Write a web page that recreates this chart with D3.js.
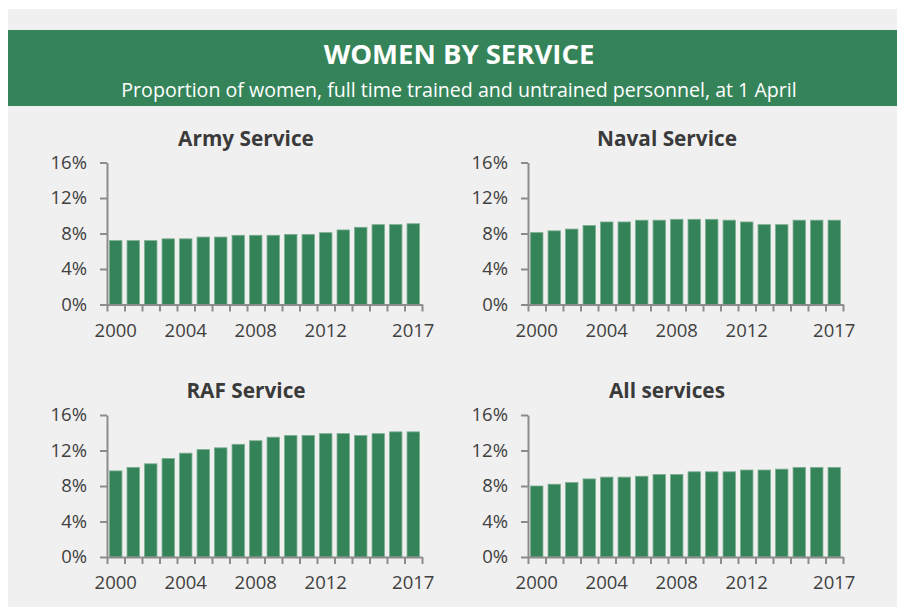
<!DOCTYPE html>
<html>
<head>
<meta charset="utf-8">
<script src="https://cdn.jsdelivr.net/npm/d3@7"></script>
<style>
  body { margin: 0; background: #fff; }
  svg text { font-family: "Open Sans", sans-serif; }
</style>
</head>
<body>
<div id="viz"></div>
<script>
const years = d3.range(2000, 2018);
const yearLabels = [2000, 2004, 2008, 2012, 2017];
const yTicks = [0, 4, 8, 12, 16];

// percent of women
const army  = [7.2, 7.2, 7.2, 7.4, 7.4, 7.6, 7.6, 7.8, 7.8, 7.8, 7.9, 7.9, 8.1, 8.4, 8.7, 9.0, 9.0, 9.1];
const naval = [8.1, 8.3, 8.5, 8.9, 9.3, 9.3, 9.5, 9.5, 9.6, 9.6, 9.6, 9.5, 9.3, 9.0, 9.0, 9.5, 9.5, 9.5];
const raf   = [9.7, 10.1, 10.5, 11.1, 11.7, 12.1, 12.3, 12.7, 13.1, 13.5, 13.7, 13.7, 13.9, 13.9, 13.7, 13.9, 14.1, 14.1];
const all   = [8.0, 8.2, 8.4, 8.8, 9.0, 9.0, 9.1, 9.3, 9.3, 9.6, 9.6, 9.6, 9.8, 9.8, 9.9, 10.1, 10.1, 10.1];

const W = 897, H = 607;
const green = '#358459';
const pw = 315; // plot width
const ph = 142; // plot height

const svg = d3.select('#viz').append('svg')
    .attr('width', W)
    .attr('height', H);

svg.append('rect').attr('x', 8).attr('y', 9).attr('width', W - 8).attr('height', H - 9).attr('fill', '#f0f0f0');
svg.append('rect').attr('x', 8).attr('y', 30).attr('width', W - 8).attr('height', 76).attr('fill', green);

svg.append('text')
    .attr('x', 459).attr('y', 64)
    .attr('text-anchor', 'middle')
    .attr('fill', '#fff')
    .style('font-size', '27.5px').style('font-weight', 700)
    .text('WOMEN BY SERVICE');

svg.append('text')
    .attr('x', 459).attr('y', 97)
    .attr('text-anchor', 'middle')
    .attr('fill', '#fff')
    .style('font-size', '19.6px')
    .text('Proportion of women, full time trained and untrained personnel, at 1 April');

function panel(px, py, title, values, titleX) {
    const g = svg.append('g').attr('transform', `translate(${px},${py})`);

    const x = d3.scaleBand().domain(years).range([0, pw]).paddingInner(0.29).paddingOuter(0.145);
    const xt = d3.scaleLinear().domain([0, years.length]).range([0, pw]);
    const y = d3.scaleLinear().domain([0, 16]).range([ph, 0]);

    g.append('text')
        .attr('x', titleX - px).attr('y', -17)
        .attr('text-anchor', 'middle')
        .attr('fill', '#3a3a3a')
        .style('font-size', '20.8px').style('font-weight', 700)
        .text(title);

    g.selectAll('rect.bar')
        .data(values)
        .enter()
        .append('rect')
        .attr('class', 'bar')
        .attr('x', (d, i) => x(years[i]))
        .attr('y', d => y(d))
        .attr('width', x.bandwidth())
        .attr('height', d => ph - y(d))
        .attr('fill', green)
        .attr('stroke', '#7dae92')
        .attr('stroke-width', 0.8);

    g.append('g')
        .call(d3.axisLeft(y).tickValues(yTicks).tickFormat(d => d + '%').tickSize(7).tickSizeOuter(0).tickPadding(13));

    g.append('g')
        .attr('transform', `translate(0,${ph})`)
        .call(d3.axisBottom(xt).tickValues(d3.range(0, years.length + 1)).tickFormat('').tickSize(7).tickSizeOuter(0));

    const xl = g.append('g')
        .attr('transform', `translate(0,${ph})`)
        .call(d3.axisBottom(x).tickValues(yearLabels).tickSize(0).tickPadding(19));
    xl.select('.domain').remove();

    g.selectAll('.domain, .tick line').attr('stroke', '#8c8c8c').attr('stroke-width', 2);
    g.selectAll('.tick text').attr('fill', '#404040').style('font-size', '18.5px');
}

panel(107, 162.5, 'Army Service', army, 246);
panel(528, 162.5, 'Naval Service', naval, 667);
panel(107, 415, 'RAF Service', raf, 246);
panel(528, 415, 'All services', all, 667);
</script>
</body>
</html>
